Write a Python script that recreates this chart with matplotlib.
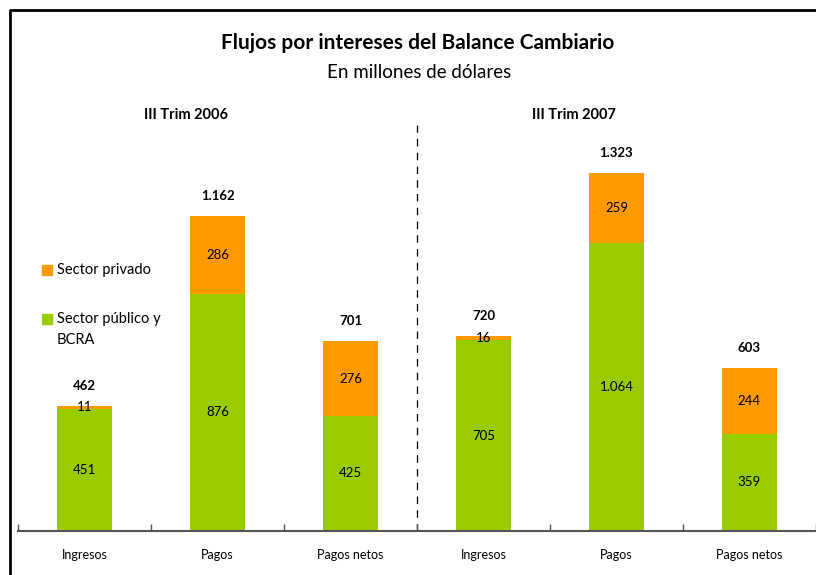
import matplotlib
matplotlib.use("Agg")
import matplotlib.pyplot as plt
from matplotlib.patches import Rectangle
from matplotlib.lines import Line2D

categories = ["Ingresos", "Pagos", "Pagos netos", "Ingresos", "Pagos", "Pagos netos"]
publico = [451, 876, 425, 705, 1064, 359]
privado = [11, 286, 276, 16, 259, 244]
totales = [462, 1162, 701, 720, 1323, 603]
periodos = ["III Trim 2006", "III Trim 2007"]

ORANGE = "#FF9900"
GREEN = "#99CC00"

plt.rcParams['font.family'] = ['Lato', 'DejaVu Sans']

W, H = 816, 575
fig = plt.figure(figsize=(W / 100, H / 100), dpi=100)

def fx(px):
    return px / W

def fy(py):
    return 1 - py / H

ax = fig.add_axes([fx(18), fy(531), fx(816) - fx(18), fy(125) - fy(531)])

x = list(range(len(categories)))
bw = 0.41
ax.bar(x, publico, width=bw, color=GREEN, zorder=2)
ax.bar(x, privado, width=bw, bottom=publico, color=ORANGE, zorder=2)

def fmt(v):
    return f"{v:,}".replace(",", ".")

for i in x:
    ax.text(i, publico[i] / 2, fmt(publico[i]), ha="center", va="center", fontsize=9.5, color="black")
    ax.text(i, publico[i] + privado[i] / 2, fmt(privado[i]), ha="center", va="center", fontsize=9.5, color="black")
    ax.annotate(fmt(totales[i]), (i, publico[i] + privado[i]), xytext=(0, 20), textcoords="offset pixels",
                ha="center", va="center", fontsize=9.5, fontweight="bold")

ax.set_xlim(-0.5, 5.5)
ax.set_ylim(0, 1500)
ax.set_yticks([])
for s in ["top", "right", "left"]:
    ax.spines[s].set_visible(False)
ax.spines["bottom"].set_color("#555555")
ax.spines["bottom"].set_linewidth(1.5)
ax.set_xticks(x)
ax.set_xticklabels(categories, fontsize=9)
ax.tick_params(axis="x", which="major", length=0, pad=13)
ax.set_xticks([i - 0.5 for i in range(len(categories) + 1)], minor=True)
ax.tick_params(axis="x", which="minor", direction="in", length=5, width=1, color="#555555")

ax.axvline(2.5, color="black", linestyle=(0, (6, 5)), linewidth=0.9, zorder=1)

ax.text(0.76, 1.025, periodos[0], transform=ax.get_xaxis_transform(), ha="center", va="center",
        fontsize=10.5, fontweight="bold")
ax.text(3.68, 1.025, periodos[1], transform=ax.get_xaxis_transform(), ha="center", va="center",
        fontsize=10.5, fontweight="bold")

fig.text(fx(418), fy(43), "Flujos por intereses del Balance Cambiario", ha="center", va="center",
         fontsize=15, fontweight="bold")
fig.text(fx(419), fy(72), "En millones de dólares", ha="center", va="center", fontsize=13.5)

# legend
fig.add_artist(Rectangle((fx(42), fy(275)), fx(10), fy(0) - fy(10), transform=fig.transFigure,
                         color=ORANGE))
fig.text(fx(57), fy(270), "Sector privado", ha="left", va="center", fontsize=10.5)
fig.add_artist(Rectangle((fx(42), fy(324)), fx(10), fy(0) - fy(10), transform=fig.transFigure,
                         color=GREEN))
fig.text(fx(57), fy(319), "Sector público y", ha="left", va="center", fontsize=10.5)
fig.text(fx(57), fy(340), "BCRA", ha="left", va="center", fontsize=10.5)

# border
fig.add_artist(Line2D([fx(10), fx(10), 1.0], [0.0, fy(10), fy(10)], transform=fig.transFigure,
                      color="black", linewidth=2))

fig.savefig("out.png", dpi=100)
